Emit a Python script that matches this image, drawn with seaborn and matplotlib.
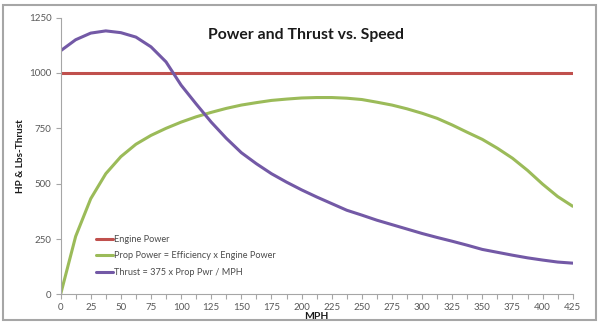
import numpy as np
import pandas as pd
import matplotlib
matplotlib.use("Agg")
import matplotlib.pyplot as plt
from matplotlib.patches import Rectangle
from matplotlib.ticker import MultipleLocator
import seaborn as sns

# Speed samples (MPH)
mph = [0, 12.5, 25, 37.5, 50, 62.5, 75, 87.5, 100, 112.5, 125, 137.5, 150,
       162.5, 175, 187.5, 200, 212.5, 225, 237.5, 250, 262.5, 275, 287.5,
       300, 312.5, 325, 337.5, 350, 362.5, 375, 387.5, 400, 412.5, 425]

engine_power = [1000] * len(mph)

prop_power = [0, 262, 432, 545, 622, 678, 718, 750, 778, 802, 822, 840, 855,
              866, 876, 882, 887, 889, 889, 886, 880, 868, 855, 838,
              818, 795, 765, 732, 700, 660, 615, 560, 498, 442, 398]

thrust = [1100, 1150, 1180, 1190, 1182, 1162, 1118, 1050, 945, 860, 778, 705, 640,
          590, 545, 507, 472, 440, 410, 380, 358, 335, 315, 295,
          275, 257, 240, 222, 203, 190, 177, 165, 155, 146, 141]

series_names = ["Engine Power",
                "Prop Power = Efficiency x Engine Power",
                "Thrust = 375 x Prop Pwr / MPH"]
series_colors = ["#C0504D", "#9BBB59", "#7359A6"]

df = pd.DataFrame({
    "MPH": mph * 3,
    "value": engine_power + prop_power + thrust,
    "series": [series_names[0]] * len(mph) + [series_names[1]] * len(mph)
              + [series_names[2]] * len(mph),
})

sns.set_theme(style="white")
plt.rcParams["font.family"] = ["Lato", "DejaVu Sans"]

fig = plt.figure(figsize=(6.0, 3.26), dpi=100)
ax = fig.add_axes([0.101, 0.097, 0.8535, 0.849])

sns.lineplot(data=df, x="MPH", y="value", hue="series",
             palette=dict(zip(series_names, series_colors)),
             linewidth=2.2, ax=ax, legend=True)

ax.set_xlim(0, 425)
ax.set_ylim(0, 1250)
ax.xaxis.set_major_locator(MultipleLocator(25))
ax.xaxis.set_minor_locator(MultipleLocator(12.5))
ax.yaxis.set_major_locator(MultipleLocator(250))

for side in ("top", "right"):
    ax.spines[side].set_visible(False)
for side in ("left", "bottom"):
    ax.spines[side].set_color("#A6A6A6")
    ax.spines[side].set_linewidth(0.8)

ax.tick_params(axis="both", which="both", direction="out", colors="#A6A6A6",
               labelcolor="#595959", labelsize=7, length=3.5, width=0.8,
               left=True, bottom=True, pad=3)
ax.tick_params(axis="x", which="minor", length=3.5)

ax.set_xlabel("MPH", fontsize=7.5, fontweight="bold", color="#1a1a1a", labelpad=0)
ax.set_ylabel("HP & Lbs-Thrust", fontsize=7.2, fontweight="bold", color="#1a1a1a")
ax.yaxis.set_label_coords(-0.07, 0.5)

ax.text(0.51, 0.892, "Power and Thrust vs. Speed", transform=fig.transFigure,
        ha="center", va="center", fontsize=11.3, fontweight="bold", color="#1a1a1a")

leg = ax.legend(loc="lower left", bbox_to_anchor=(0.062, 0.05), frameon=False,
                fontsize=6.6, handlelength=1.9, handletextpad=0.05,
                labelspacing=0.82, borderaxespad=0)
for t in leg.get_texts():
    t.set_color("#4a4a4a")

# chart border
fig.patches.append(Rectangle((3 / 600, 1 - 320 / 326), 593 / 600, 315 / 326,
                             transform=fig.transFigure, fill=False,
                             edgecolor="#A6A6A6", linewidth=1.5))

fig.savefig("out.png", dpi=100)
